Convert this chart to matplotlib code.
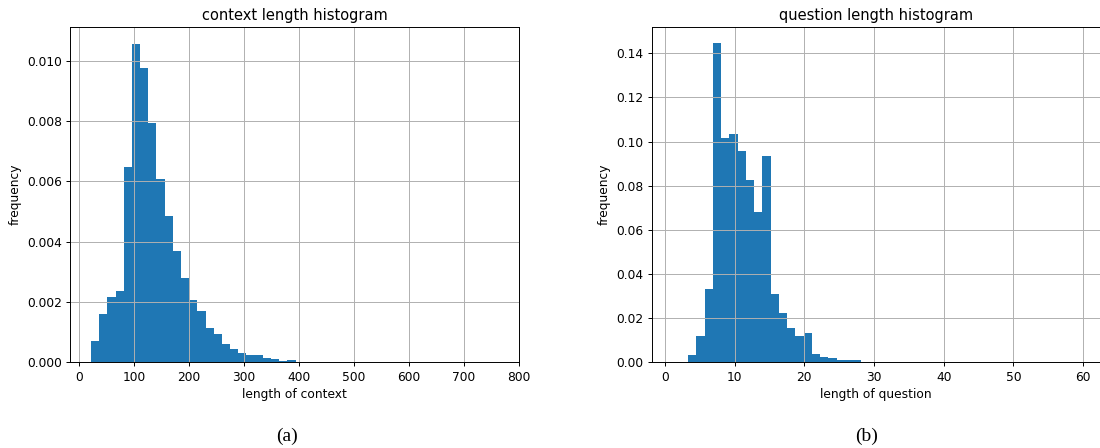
import numpy as np
import matplotlib
matplotlib.use("Agg")
import matplotlib.pyplot as plt

# context length histogram (density per bin)
ctx_bin_start = 21.8
ctx_bin_width = 14.88
ctx_freq = [0.00071, 0.00160, 0.00217, 0.00236, 0.00648, 0.01057, 0.00976, 0.00793,
            0.00608, 0.00485, 0.00369, 0.00280, 0.00207, 0.00170, 0.00114, 0.00094,
            0.00061, 0.00043, 0.00031, 0.00024, 0.00024, 0.00014, 0.00011, 0.000044,
            0.000077, 0.00002, 0.00001, 0.00001, 0.000006, 0.000004, 0.000003, 0.000002,
            0.000002, 0.000001, 0.000001, 0.000001, 0.0, 0.000001, 0.0, 0.0,
            0.0, 0.000001, 0.0, 0.0, 0.0, 0.0, 0.0, 0.0, 0.0, 0.000001]

# question length histogram (density per bin)
q_bin_start = 3.35
q_bin_width = 1.183
q_freq = [0.0033, 0.0119, 0.0333, 0.1447, 0.1016, 0.1034, 0.0959, 0.0827,
          0.0682, 0.0936, 0.0310, 0.0224, 0.0156, 0.0117, 0.0132, 0.0038,
          0.0024, 0.0020, 0.0011, 0.0011, 0.0011, 0.0002, 0.0001, 0.0001,
          0.00005, 0.00003, 0.00002, 0.00001, 0.00001, 0.0, 0.0, 0.0,
          0.0, 0.0, 0.0, 0.0, 0.0, 0.0, 0.0, 0.0,
          0.0, 0.0, 0.0, 0.0, 0.0, 0.0, 0.0, 0.0, 0.0, 0.00001]

plt.rcParams.update({
    "font.size": 8.8,
    "axes.titlesize": 10.5,
    "axes.linewidth": 0.7,
    "xtick.major.size": 3.1,
    "ytick.major.size": 3.1,
    "xtick.major.width": 0.7,
    "ytick.major.width": 0.7,
    "xtick.major.pad": 3.0,
    "ytick.major.pad": 3.0,
    "grid.linewidth": 0.7,
    "grid.color": "#b0b0b0",
})


def draw_hist(ax, start, width, freq):
    edges = start + width * np.arange(len(freq) + 1)
    centers = (edges[:-1] + edges[1:]) / 2
    ax.hist(centers, bins=edges, weights=freq, color="#1f77b4")
    ax.grid(True)


fig = plt.figure(figsize=(11, 4.48), dpi=100)

ax1 = fig.add_axes([0.0639, 0.1913, 0.4082, 0.7491])
draw_hist(ax1, ctx_bin_start, ctx_bin_width, ctx_freq)
ax1.set_xlim(-15.8, 800.5)
ax1.set_ylim(0, 0.01113)
ax1.set_xticks(np.arange(0, 801, 100))
ax1.set_yticks(np.arange(0, 0.0101, 0.002))
ax1.yaxis.set_major_formatter(matplotlib.ticker.FormatStrFormatter("%.3f"))
ax1.set_title("context length histogram", pad=4.5)
ax1.set_xlabel("length of context", labelpad=3)
ax1.set_ylabel("frequency", labelpad=4)

# right panel runs past the figure edge, as in the cropped original
ax2 = fig.add_axes([0.5925, 0.1913, 0.42, 0.7491])
draw_hist(ax2, q_bin_start, q_bin_width, q_freq)
ax2.set_xlim(-1.87, 64.4)
ax2.set_ylim(0, 0.152)
ax2.set_xticks(np.arange(0, 61, 10))
ax2.set_yticks(np.arange(0, 0.141, 0.02))
ax2.yaxis.set_major_formatter(matplotlib.ticker.FormatStrFormatter("%.2f"))
ax2.set_title("question length histogram", pad=4.5, x=0.485)
ax2.set_xlabel("length of question", labelpad=3, x=0.485)
ax2.set_ylabel("frequency", labelpad=4)

fig.text(0.2607, 0.025, "(a)", family="Liberation Serif", fontsize=14,
         ha="center", va="center")
fig.text(0.788, 0.025, "(b)", family="Liberation Serif", fontsize=14,
         ha="center", va="center")

fig.savefig("out.png", dpi=100)
